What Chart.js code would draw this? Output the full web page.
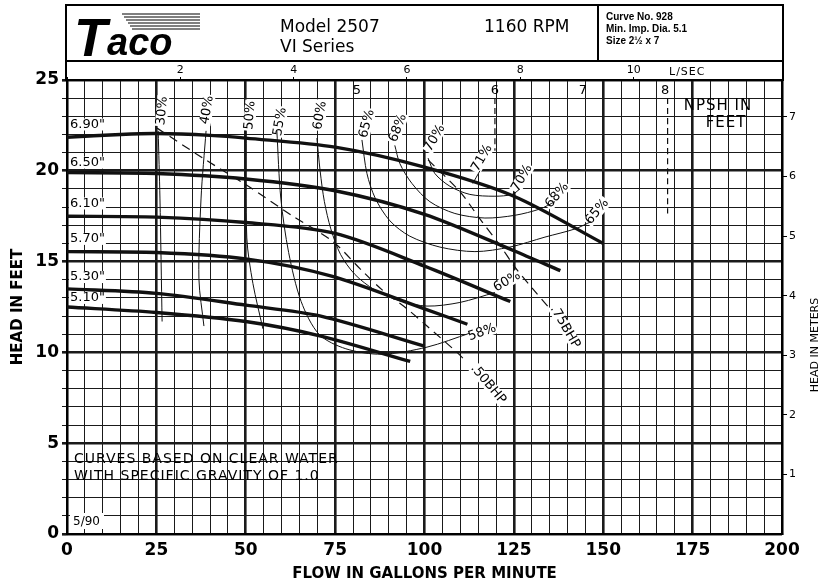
<!DOCTYPE html>
<html>
<head>
<meta charset="utf-8">
<script src="https://cdn.jsdelivr.net/npm/chart.js"></script>
<style>
  html, body { margin: 0; padding: 0; background: #fff; }
</style>
</head>
<body>
<canvas id="pumpChart" width="820" height="583"></canvas>
<script>
/* Taco 2507 pump curve - head vs flow */

// impeller curves, [gpm, feet]
const imp690 = [[0,21.85],[15,22.0],[25,22.05],[40,21.95],[50,21.8],[75,21.3],[100,20.2],[125,18.6],[150,16.0]];
const imp650 = [[0,19.9],[25,19.85],[50,19.55],[75,18.9],[100,17.6],[125,15.6],[138,14.5]];
const imp610 = [[0,17.5],[25,17.45],[50,17.15],[75,16.55],[100,14.75],[124,12.8]];
const imp570 = [[0,15.55],[25,15.5],[50,15.15],[74,14.2],[100,12.4],[112,11.55]];
const imp530 = [[0,13.5],[25,13.25],[50,12.6],[71,12.0],[100,10.35]];
const imp510 = [[0,12.5],[25,12.2],[50,11.7],[71,10.9],[96,9.5]];
const impLabels = ['6.90"', '6.50"', '6.10"', '5.70"', '5.30"', '5.10"'];
const impLabelHead = [22.55, 20.45, 18.2, 16.25, 14.15, 13.0];

// efficiency lines, [gpm, feet]
const eff30 = [[25.5,22.2],[26.0,18.5],[26.6,11.7]];
const eff40 = [[38.9,22.2],[37.5,18.5],[36.9,14.05],[38.3,11.45]];
const eff50 = [[50.1,22.2],[50.3,16.3],[52.0,13.8],[54.8,11.3]];
const eff55 = [[58.7,22.2],[59.8,18.5],[62.0,15.5],[65.5,12.8],[70.5,11.0],[78.0,10.2],[88.0,9.9],[100.7,10.29],[112.7,11.06]];
const eff60 = [[69.9,21.8],[70.8,20.0],[72.0,18.3],[73.8,16.8],[76.5,15.4],[80.5,14.3],[86.0,13.45],[93.0,12.85],[100.7,12.55],[109.9,12.75],[119.7,13.3]];
const eff65 = [[82.5,21.7],[83.9,19.85],[86.2,18.5],[90.3,17.25],[95.9,16.4],[104.3,15.8],[114.1,15.55],[123.9,15.8],[133.7,16.35],[142.1,16.8],[146.6,17.2]];
const eff68 = [[91.7,21.4],[93.1,20.4],[96.5,19.3],[101.5,18.3],[108.5,17.65],[116.9,17.4],[125.3,17.55],[132.3,17.9],[136.5,18.3]];
const eff70 = [[101.0,20.7],[102.9,19.85],[107.1,19.15],[112.7,18.7],[119.7,18.6],[124.5,18.7],[126.7,19.0]];
const eff71 = [[113.5,19.3],[115.5,20.0]];

// brake horsepower lines
const bhp50 = [[25.2,22.35],[38.0,20.7],[50.3,19.2],[63.2,17.5],[74.4,16.1],[82.0,14.6],[88.4,13.4],[95.1,12.4],[100.7,11.45],[109.1,10.0],[111.9,9.45]];
const bhp75 = [[101.0,20.6],[109.9,18.85],[115.5,17.35],[121.1,15.9],[125.3,14.7],[130.3,13.5],[135.1,12.4]];

// NPSH marks
const npshValues = ['5', '6', '7', '8'];
const npshFlow = [81.1, 119.7, 144.3, 167.3];
const npshLine6 = [[119.7,24.0],[119.7,21.1]];
const npshLine8 = [[168.0,24.0],[168.0,17.65]];

// labels on the curves: text, gpm, feet, angle
const effText = ['30%','40%','50%','55%','60%','65%','68%','70%','71%','70%','68%','65%','60%','58%','.75BHP','.50BHP'];
const effTextFlow = [26.6, 39.2, 51.2, 59.6, 70.8, 83.9, 92.6, 102.9, 116.1, 127.3, 137.1, 148.3, 123.1, 116.1, 139.3, 117.8];
const effTextHead = [23.3, 23.35, 23.05, 22.7, 23.05, 22.6, 22.35, 21.8, 20.7, 19.6, 18.65, 17.75, 13.9, 11.1, 11.4, 8.25];
const effTextAngle = [-85, -80, -85, -80, -80, -75, -70, -60, -60, -60, -50, -50, -30, -20, 60, 50];

const GPM_PER_LS = 15.85;
const FT_PER_M = 3.2808;
const FONT = '"DejaVu Sans", sans-serif';

function pts(arr) {
  return arr.map(p => ({ x: p[0], y: p[1] }));
}

function line(data, width, dash) {
  return {
    data: pts(data),
    showLine: true,
    borderColor: '#111',
    borderWidth: width,
    borderDash: dash || [],
    pointRadius: 0,
    tension: 0.3,
    fill: false
  };
}

const datasets = [
  line(eff30, 1), line(eff40, 1), line(eff50, 1), line(eff55, 1), line(eff60, 1),
  line(eff65, 1), line(eff68, 1), line(eff70, 1), line(eff71, 1),
  line(bhp50, 1.2, [9, 6]), line(bhp75, 1.2, [9, 6]),
  line(npshLine6, 1.2, [6, 4]), line(npshLine8, 1.2, [6, 4]),
  line(imp690, 3.4), line(imp650, 3.4), line(imp610, 3.4),
  line(imp570, 3.4), line(imp530, 3.4), line(imp510, 3.4)
];

function drawText(ctx, text, x, y, rot, font, bg, align) {
  ctx.save();
  ctx.translate(x, y);
  ctx.rotate(rot * Math.PI / 180);
  ctx.font = font;
  ctx.textAlign = align || 'center';
  ctx.textBaseline = 'middle';
  if (bg) {
    const w = ctx.measureText(text).width;
    const x0 = ctx.textAlign === 'left' ? -1 : -w / 2 - 1;
    ctx.fillStyle = '#fff';
    ctx.fillRect(x0, -6, w + 2, 12);
  }
  ctx.fillStyle = '#000';
  ctx.fillText(text, 0, 0);
  ctx.restore();
}

const decorations = {
  id: 'decorations',
  beforeDatasetsDraw(chart) {
    const ctx = chart.ctx;
    const xs = chart.scales.x, ys = chart.scales.y;
    const area = chart.chartArea;

    // impeller labels sit under the curves
    impLabels.forEach((t, i) => {
      drawText(ctx, t, area.left + 3, ys.getPixelForValue(impLabelHead[i]), 0, '13px ' + FONT, true, 'left');
    });

    // efficiency and BHP labels
    effText.forEach((t, i) => {
      drawText(ctx, t, xs.getPixelForValue(effTextFlow[i]), ys.getPixelForValue(effTextHead[i]),
        effTextAngle[i], '13px ' + FONT, true);
    });

    // NPSH numbers
    npshValues.forEach((t, i) => {
      drawText(ctx, t, xs.getPixelForValue(npshFlow[i]), ys.getPixelForValue(24.4), 0, '13px ' + FONT, false);
    });
  },
  afterDraw(chart) {
    const ctx = chart.ctx;
    const area = chart.chartArea;

    // header box
    ctx.save();
    ctx.strokeStyle = '#000';
    ctx.lineWidth = 2;
    ctx.strokeRect(66, 5, 717, area.top - 5);
    ctx.beginPath();
    ctx.moveTo(66, 61); ctx.lineTo(783, 61);
    ctx.moveTo(598, 5); ctx.lineTo(598, 61);
    ctx.stroke();

    // logo
    ctx.lineWidth = 1.2;
    ctx.beginPath();
    for (let i = 0; i < 6; i++) {
      ctx.moveTo(122 + i * 2, 14 + i * 3);
      ctx.lineTo(200, 14 + i * 3);
    }
    ctx.stroke();
    ctx.fillStyle = '#000';
    ctx.textBaseline = 'alphabetic';
    ctx.textAlign = 'left';
    ctx.font = 'italic bold 54px "Liberation Sans", sans-serif';
    ctx.fillText('T', 74, 56);
    ctx.font = 'italic bold 38px "Liberation Sans", sans-serif';
    ctx.fillText('aco', 107, 55);

    ctx.font = '17px ' + FONT;
    ctx.fillText('Model 2507', 280, 32);
    ctx.fillText('VI Series', 280, 52);
    ctx.fillText('1160 RPM', 484, 32);
    ctx.font = 'bold 10px "Liberation Sans Narrow", "Liberation Sans", sans-serif';
    ctx.fillText('Curve No. 928', 606, 20);
    ctx.fillText('Min. Imp. Dia. 5.1', 606, 32);
    ctx.fillText('Size 2\u00BD x 7', 606, 44);

    ctx.font = '11px ' + FONT;
    ctx.letterSpacing = '1px';
    ctx.fillText('L/SEC', 669, 75);
    ctx.letterSpacing = '0px';

    ctx.font = '15px ' + FONT;
    ctx.letterSpacing = '1px';
    ctx.textAlign = 'center';
    ctx.textBaseline = 'middle';
    ctx.fillText('NPSH IN', 718, 106);
    ctx.fillText('FEET', 726, 123);

    ctx.textAlign = 'left';
    ctx.font = '14px ' + FONT;
    ctx.fillText('CURVES BASED ON CLEAR WATER', 74, 459);
    ctx.fillText('WITH SPECIFIC GRAVITY OF 1.0', 74, 476);
    ctx.letterSpacing = '0px';
    ctx.font = '12px ' + FONT;
    ctx.fillStyle = '#fff';
    ctx.fillRect(70, 513, 34, 16);
    ctx.fillStyle = '#000';
    ctx.fillText('5/90', 73, 522);

    // right axis title
    ctx.translate(815, 345);
    ctx.rotate(-Math.PI / 2);
    ctx.textAlign = 'center';
    ctx.font = '11px ' + FONT;
    ctx.fillText('HEAD IN METERS', 0, 0);
    ctx.restore();
  }
};

const gridWidth = step => c => (c.tick && Math.abs(c.tick.value % step) < 1e-6) ? 2.6 : 1;
const intOnly = c => (c.tick && Number.isInteger(c.tick.value)) ? '#000' : 'rgba(0,0,0,0)';

new Chart(document.getElementById('pumpChart'), {
  type: 'scatter',
  data: { datasets: datasets },
  options: {
    responsive: false,
    animation: false,
    layout: { padding: { top: 61, left: 0, right: 0, bottom: 0 } },
    plugins: {
      legend: { display: false },
      tooltip: { enabled: false }
    },
    scales: {
      x: {
        type: 'linear',
        position: 'bottom',
        min: 0,
        max: 200,
        afterFit: s => { s.height = 49; },
        ticks: {
          stepSize: 5,
          autoSkip: false,
          maxRotation: 0,
          padding: 6,
          color: '#000',
          font: { family: FONT, size: 17, weight: 'bold' },
          callback: v => v % 25 === 0 ? v : ''
        },
        grid: { color: '#1a1a1a', lineWidth: gridWidth(25), drawTicks: false },
        border: { color: '#000', width: 2 },
        title: {
          display: true,
          text: 'FLOW IN GALLONS PER MINUTE',
          color: '#000',
          font: { family: FONT, size: 15, weight: 'bold' },
          padding: { top: 0, bottom: 0 }
        }
      },
      xL: {
        type: 'linear',
        position: 'top',
        min: 0,
        max: 200 / GPM_PER_LS,
        afterFit: s => { s.height = 19; },
        ticks: {
          stepSize: 2,
          autoSkip: false,
          maxRotation: 0,
          padding: 0,
          color: '#000',
          font: { family: FONT, size: 11 },
          callback: v => (v > 0 && Number.isInteger(v)) ? v : ''
        },
        grid: { drawOnChartArea: false, tickLength: 3, color: intOnly },
        border: { display: false }
      },
      y: {
        type: 'linear',
        position: 'left',
        min: 0,
        max: 25,
        afterFit: s => { s.width = 67; },
        ticks: {
          stepSize: 1,
          autoSkip: false,
          padding: 3,
          color: '#000',
          font: { family: FONT, size: 17, weight: 'bold' },
          callback: v => v % 5 === 0 ? v : ''
        },
        grid: { color: '#1a1a1a', lineWidth: gridWidth(5), tickLength: 5 },
        border: { color: '#000', width: 2 },
        title: {
          display: true,
          text: 'HEAD IN FEET',
          color: '#000',
          font: { family: FONT, size: 15, weight: 'bold' },
          padding: { top: 9, bottom: 0 }
        }
      },
      yM: {
        type: 'linear',
        position: 'right',
        min: 0,
        max: 25 / FT_PER_M,
        afterFit: s => { s.width = 38; },
        ticks: {
          stepSize: 1,
          autoSkip: false,
          padding: 2,
          color: '#000',
          font: { family: FONT, size: 11 },
          callback: v => (v >= 1 && v <= 7 && Number.isInteger(v)) ? v : ''
        },
        grid: { drawOnChartArea: false, tickLength: 5, color: c => (c.tick && c.tick.value >= 1 && c.tick.value <= 7 && Number.isInteger(c.tick.value)) ? '#000' : 'rgba(0,0,0,0)' },
        border: { color: '#000', width: 2 }
      }
    }
  },
  plugins: [decorations]
});
</script>
</body>
</html>
